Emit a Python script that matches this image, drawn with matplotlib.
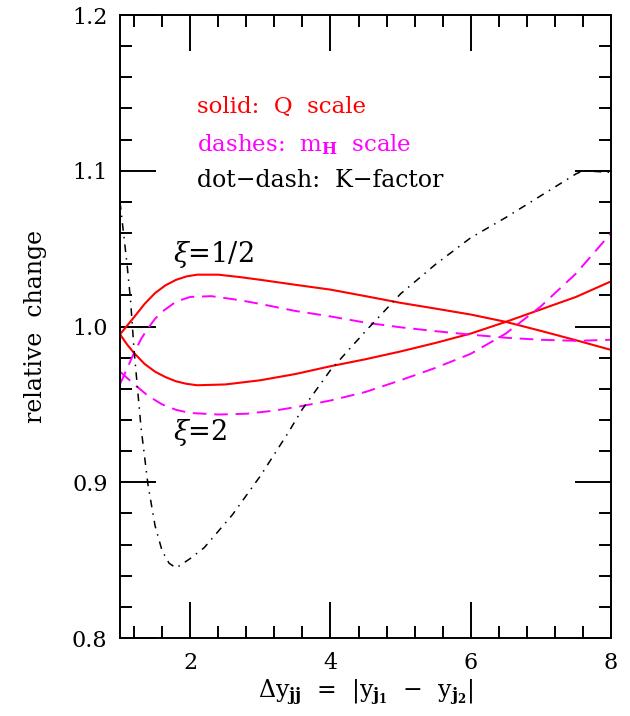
import matplotlib
matplotlib.use("Agg")
import matplotlib.pyplot as plt
from matplotlib.ticker import MultipleLocator

# Q scale variation (solid, red)
x_q_half = [1.0, 1.1, 1.2, 1.35, 1.5, 1.65, 1.8, 1.95, 2.1, 2.4, 2.7, 3.0, 3.5, 4.0, 4.5, 5.0, 5.5, 6.0, 6.5, 7.0, 7.5, 8.0]
y_q_half = [0.995, 1.0005, 1.006, 1.0145, 1.0215, 1.0265, 1.030, 1.0322, 1.0333, 1.0333, 1.0318, 1.030, 1.0268, 1.0237, 1.0195, 1.0152, 1.0115, 1.0077, 1.0030, 0.9972, 0.9912, 0.985]
x_q_two = [1.0, 1.1, 1.2, 1.35, 1.5, 1.65, 1.8, 1.95, 2.1, 2.5, 3.0, 3.5, 4.0, 4.5, 5.0, 5.5, 6.0, 6.5, 7.0, 7.5, 8.0]
y_q_two = [0.995, 0.9885, 0.983, 0.976, 0.971, 0.9675, 0.9648, 0.9632, 0.9623, 0.9628, 0.9655, 0.9695, 0.9745, 0.9790, 0.9840, 0.9895, 0.9955, 1.0030, 1.0110, 1.0190, 1.029]

# m_H scale variation (dashed, magenta)
x_m_half = [1.0, 1.1, 1.2, 1.3, 1.4, 1.5, 1.6, 1.8, 2.0, 2.3, 2.7, 3.0, 3.5, 4.0, 4.5, 5.0, 5.5, 6.0, 6.5, 7.0, 7.5, 8.0]
y_m_half = [0.963, 0.973, 0.983, 0.992, 0.999, 1.005, 1.0095, 1.016, 1.019, 1.0195, 1.0170, 1.0145, 1.0100, 1.0065, 1.0025, 0.9995, 0.9970, 0.9948, 0.9928, 0.9915, 0.9908, 0.9915]
x_m_two = [1.0, 1.2, 1.4, 1.6, 1.8, 2.0, 2.4, 2.8, 3.2, 3.6, 4.0, 4.5, 5.0, 5.5, 6.0, 6.5, 7.0, 7.5, 8.0]
y_m_two = [0.971, 0.963, 0.9555, 0.950, 0.9465, 0.9445, 0.9435, 0.9440, 0.9460, 0.9490, 0.9525, 0.9580, 0.9655, 0.9735, 0.9825, 0.9955, 1.0130, 1.0340, 1.060]

# K-factor (dot-dash, black)
x_k = [1.0, 1.05, 1.1, 1.15, 1.2, 1.3, 1.4, 1.5, 1.6, 1.7, 1.8, 1.9, 2.0, 2.2, 2.6, 3.0, 3.4, 3.6, 4.0, 4.5, 5.0, 5.5, 6.0, 6.5, 7.0, 7.5, 7.6, 8.0]
y_k = [1.08, 1.06, 1.04, 1.017, 0.985, 0.935, 0.898, 0.872, 0.856, 0.848, 0.845, 0.848, 0.851, 0.858, 0.879, 0.904, 0.932, 0.947, 0.972, 0.997, 1.021, 1.040, 1.057, 1.070, 1.084, 1.098, 1.100, 1.099]

y_ticks = [0.8, 0.9, 1.0, 1.1, 1.2]
y_tick_labels = ["0.8", "0.9", "1.0", "1.1", "1.2"]
x_ticks = [2, 4, 6, 8]

plt.rcParams["font.family"] = ["DejaVu Serif"]
plt.rcParams["mathtext.fontset"] = "dejavuserif"

fig = plt.figure(figsize=(6.3, 7.16), dpi=100)
ax = fig.add_axes([0.1905, 0.1089, 0.7794, 0.8701])

red = "#ff0000"
mag = "#ff00ff"

ax.plot(x_q_half, y_q_half, color=red, lw=1.5)
ax.plot(x_q_two, y_q_two, color=red, lw=1.5)
ax.plot(x_m_half, y_m_half, color=mag, lw=1.4, linestyle=(0, (7, 4)))
ax.plot(x_m_two, y_m_two, color=mag, lw=1.4, linestyle=(0, (7, 4)))
ax.plot(x_k, y_k, color="black", lw=1.1, linestyle=(0, (5, 4, 1, 4)))

ax.set_xlim(1, 8)
ax.set_ylim(0.8, 1.2)
ax.set_xticks(x_ticks)
ax.set_yticks(y_ticks)
ax.set_yticklabels(y_tick_labels)
ax.xaxis.set_minor_locator(MultipleLocator(0.4))
ax.yaxis.set_minor_locator(MultipleLocator(0.02))
ax.tick_params(which="both", direction="in", top=True, right=True, width=1.4, labelsize=16)
ax.tick_params(which="major", length=26)
ax.tick_params(which="minor", length=8.5)
ax.tick_params(axis="y", pad=9)
ax.tick_params(axis="x", pad=10)
for s in ax.spines.values():
    s.set_linewidth(1.4)

# legend text
fs = 16.5
ax.text(2.1, 1.141, "solid:  Q  scale", color=red, fontsize=fs, va="center")
ax.text(2.1, 1.117, "dashes:  m$_\\mathbf{H}$  scale", color=mag, fontsize=fs, va="center")
ax.text(2.1, 1.094, "dot\u2212dash:  K\u2212factor", color="black", fontsize=17, va="center")

# curve labels
ax.text(1.76, 1.046, r"$\xi$=1/2", fontsize=19.5, va="center")
ax.text(1.76, 0.932, r"$\xi$=2", fontsize=19.5, va="center")

ax.set_ylabel("relative  change", fontsize=17, labelpad=18)
ax.set_xlabel("$\\Delta$y$_{\\mathbf{jj}}$  =  |y$_{\\mathbf{j_1}}$  \u2212  y$_{\\mathbf{j_2}}$|",
              fontsize=17, labelpad=3)

fig.savefig("out.png", dpi=100)
